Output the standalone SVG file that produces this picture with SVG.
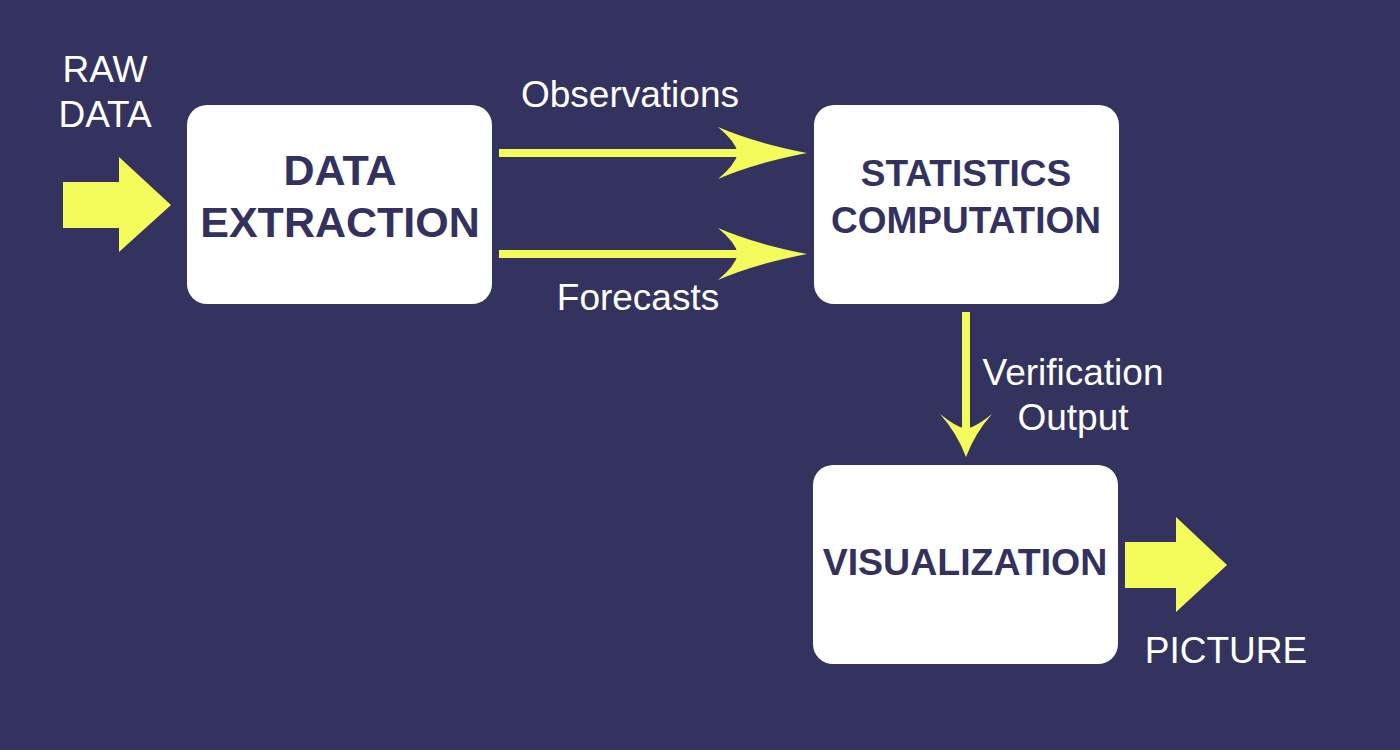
<svg xmlns="http://www.w3.org/2000/svg" width="1400" height="750" viewBox="0 0 1400 750">
  <style>
    .box { fill: #ffffff; }
    .node-title { font-family: "Liberation Sans", Arial, sans-serif; font-weight: bold; fill: #33325f; text-anchor: middle; }
    .label { font-family: "Liberation Sans", Arial, sans-serif; font-size: 37px; fill: #ffffff; text-anchor: middle; }
    .flow { fill: #f4fc5c; }
    .shaft { stroke: #f4fc5c; stroke-width: 8; fill: none; }
  </style>
  <defs>
    <!-- curved "stealth" arrowhead, tip at origin, pointing +x -->
    <path id="headWide" d="M0,0 Q-52,-10 -89,-26 Q-72,-12 -69,0 Q-72,12 -89,26 Q-52,10 0,0 Z"/>
    <path id="headShort" d="M0,0 Q-24,-9 -43,-26 Q-30,-10 -28,0 Q-30,10 -43,26 Q-24,9 0,0 Z"/>
  </defs>

  <rect width="1400" height="750" fill="#34335f"/>

  <!-- input / output block arrows and their captions -->
  <g id="raw-data">
    <text class="label" x="105" y="82">RAW</text>
    <text class="label" x="105" y="127">DATA</text>
    <polygon class="flow" points="63,182 119,182 119,157 171,205 119,252 119,228 63,228"/>
  </g>
  <g id="picture">
    <polygon class="flow" points="1125,542 1176,542 1176,517 1227,565 1176,612 1176,588 1125,588"/>
    <text class="label" x="1226" y="663">PICTURE</text>
  </g>

  <!-- processing stages -->
  <g id="data-extraction">
    <rect class="box" x="187" y="105" width="305" height="199" rx="20"/>
    <text class="node-title" x="340" y="185" font-size="43">DATA</text>
    <text class="node-title" x="340" y="237" font-size="43">EXTRACTION</text>
  </g>
  <g id="statistics-computation">
    <rect class="box" x="814" y="105" width="305" height="199" rx="20"/>
    <text class="node-title" x="966" y="186" font-size="37">STATISTICS</text>
    <text class="node-title" x="966" y="233" font-size="37">COMPUTATION</text>
  </g>
  <g id="visualization">
    <rect class="box" x="813" y="465" width="305" height="199" rx="20"/>
    <text class="node-title" x="965" y="575" font-size="37.5">VISUALIZATION</text>
  </g>

  <!-- connectors between stages -->
  <g id="connectors">
    <g id="observations">
      <line class="shaft" x1="499" y1="153" x2="742" y2="153"/>
      <use href="#headWide" class="flow" transform="translate(807,153)"/>
      <text class="label" x="630" y="107" font-size="38">Observations</text>
    </g>
    <g id="forecasts">
      <line class="shaft" x1="499" y1="254" x2="742" y2="254"/>
      <use href="#headWide" class="flow" transform="translate(807,254)"/>
      <text class="label" x="638" y="310">Forecasts</text>
    </g>
    <g id="verification-output">
      <line class="shaft" x1="966" y1="312" x2="966" y2="432"/>
      <use href="#headShort" class="flow" transform="translate(966,457) rotate(90)"/>
      <text class="label" x="1073" y="385">Verification</text>
      <text class="label" x="1073" y="430">Output</text>
    </g>
  </g>
</svg>
